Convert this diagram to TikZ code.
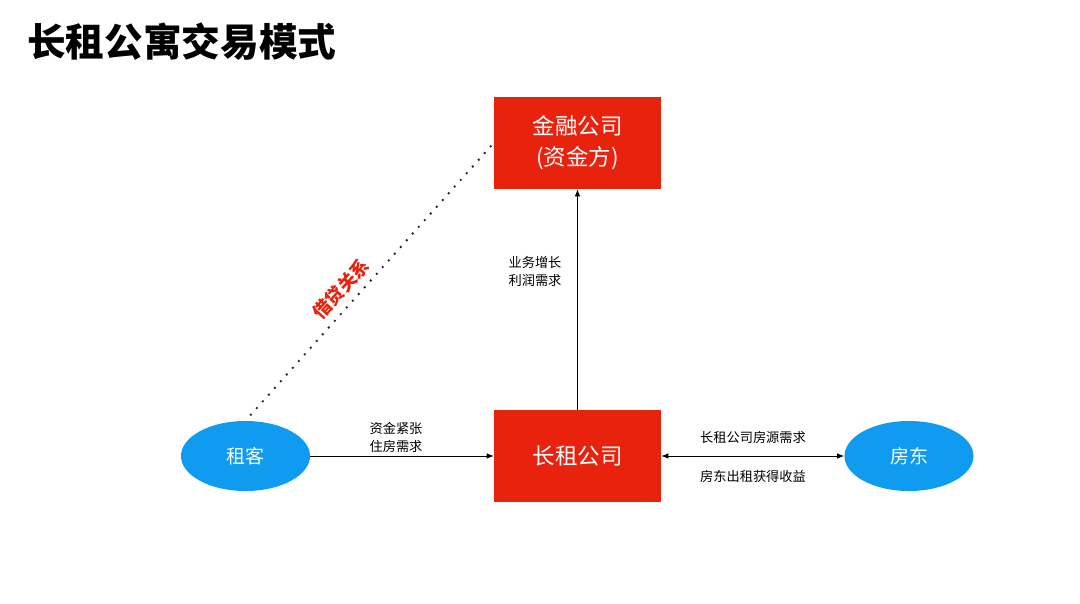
\documentclass[tikz,border=0pt]{standalone}
\usepackage{fontspec}
\setmainfont{Noto Sans CJK SC}
\usetikzlibrary{shapes.geometric, arrows.meta}
\definecolor{boxred}{RGB}{233,34,14}
\definecolor{ellblue}{RGB}{14,155,240}
\begin{document}
\begin{tikzpicture}[x=0.025cm, y=-0.025cm]
    % Define styles
    \tikzset{
        redbox/.style={draw=none, fill=boxred, minimum width=4.175cm, minimum height=2.3cm, inner sep=0pt, align=center, text=white, font=\fontsize{16}{22}\selectfont},
        blueellipse/.style={ellipse, fill=ellblue, minimum width=3.225cm, minimum height=1.75cm, inner sep=0pt, text=white, font=\fontsize{13.5}{16}\selectfont},
        smalllabel/.style={align=center, font=\fontsize{9.4}{12.8}\selectfont},
        thinarrow/.style={-{Latex[length=5pt, width=4pt]}, line width=0.7pt},
        botharrow/.style={{Latex[length=5pt, width=4pt]}-{Latex[length=5pt, width=4pt]}, line width=0.7pt},
        dottedline/.style={line width=1.9pt, line cap=round, dash pattern=on 0pt off 6.4pt, shorten <=0.2cm, draw=black!85}
    }
    \useasboundingbox (0,0) rectangle (1080,604);

    % Title
    \node[anchor=west, inner sep=0pt, font=\fontsize{27.5}{30}\selectfont\bfseries] (title) at (27,42) {长租公寓交易模式};

    % Companies
    \node[redbox] (finance) at (577.5,143) {金融公司\\(资金方)};
    \node[redbox] (rental) at (577.5,456) {长租公司};

    % Tenant and landlord
    \node[blueellipse] (tenant) at (245.5,456) {租客};
    \node[blueellipse] (landlord) at (909,456) {房东};

    % Arrows between nodes
    \draw[thinarrow] (tenant) -- (rental);
    \draw[thinarrow] (rental) -- (finance);
    \draw[botharrow] (rental) -- (landlord);

    % Credit relation
    \draw[dottedline] (tenant.north) -- (finance.west);
    \node[rotate=48, inner sep=0pt, text=boxred, font=\fontsize{13}{15}\selectfont\bfseries] (credit) at (341,289) {借贷关系};

    % Arrow labels
    \node[smalllabel] (needs) at (396,437) {资金紧张\\住房需求};
    \node[smalllabel] (growth) at (535,271) {业务增长\\利润需求};
    \node[smalllabel] (supply) at (753,437) {长租公司房源需求};
    \node[smalllabel] (income) at (753,476) {房东出租获得收益};

\end{tikzpicture}
\end{document}
